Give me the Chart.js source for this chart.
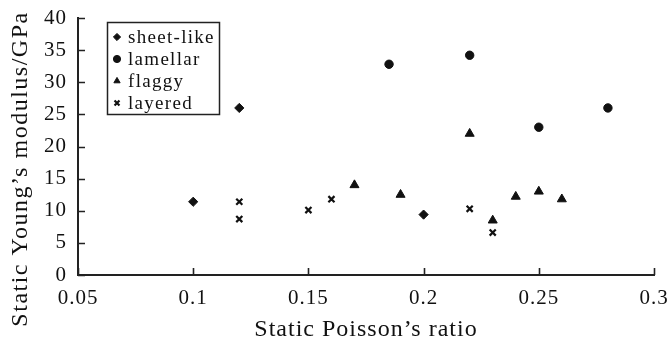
<!DOCTYPE html>
<html>
<head>
<meta charset="utf-8">
<script src="https://cdn.jsdelivr.net/npm/chart.js@4"></script>
<style>
html,body{margin:0;padding:0;background:#fff;}
#wrap{width:671px;height:344px;position:relative;}
</style>
</head>
<body>
<div id="wrap"><canvas id="c" width="671" height="344"></canvas></div>
<script>
// ---- data ----
const seriesNames = ['sheet-like', 'lamellar', 'flaggy', 'layered'];
const sheetX = [0.10, 0.12, 0.20];
const sheetY = [11.4, 26.0, 9.4];
const lamX = [0.185, 0.22, 0.25, 0.28];
const lamY = [32.8, 34.2, 23.0, 26.0];
const flagX = [0.17, 0.19, 0.22, 0.23, 0.24, 0.25, 0.26];
const flagY = [14.0, 12.5, 22.0, 8.5, 12.2, 13.0, 11.8];
const layX = [0.12, 0.12, 0.15, 0.16, 0.22, 0.23];
const layY = [11.4, 8.7, 10.1, 11.8, 10.3, 6.6];
const xTickValues = [0.05, 0.1, 0.15, 0.2, 0.25, 0.3];
const xTickLabels = ['0.05', '0.1', '0.15', '0.2', '0.25', '0.3'];
const yTickValues = [0, 5, 10, 15, 20, 25, 30, 35, 40];
const yTickLabels = ['0', '5', '10', '15', '20', '25', '30', '35', '40'];
const xTitle = 'Static Poisson\u2019s ratio';
const yTitle = 'Static Young\u2019s modulus/GPa';

function pts(xs, ys) { return xs.map((x, i) => ({x: x, y: ys[i]})); }

const INK = '#111';
const FONT = '"Liberation Serif", "Times New Roman", serif';

const datasets = [
  {label: seriesNames[0], data: pts(sheetX, sheetY), pointStyle: 'rectRot', pointRadius: 4.6, backgroundColor: INK, borderColor: INK, borderWidth: 1},
  {label: seriesNames[1], data: pts(lamX, lamY), pointStyle: 'circle', pointRadius: 4.2, backgroundColor: INK, borderColor: INK, borderWidth: 1},
  {label: seriesNames[2], data: pts(flagX, flagY), pointStyle: 'triangle', pointRadius: 5.2, backgroundColor: INK, borderColor: INK, borderWidth: 1},
  {label: seriesNames[3], data: pts(layX, layY), pointStyle: 'crossRot', pointRadius: 4.3, backgroundColor: INK, borderColor: INK, borderWidth: 2.2}
];

// wide tracking like the reference typesetting
const tracking = {
  id: 'tracking',
  beforeDraw(chart) { chart.ctx.letterSpacing = '1px'; }
};

// inward tick marks, drawn from the scales
const innerTicks = {
  id: 'innerTicks',
  afterDatasetsDraw(chart) {
    const ctx = chart.ctx, xs = chart.scales.x, ys = chart.scales.y, a = chart.chartArea;
    ctx.save();
    ctx.strokeStyle = '#222';
    ctx.lineWidth = 1.6;
    ctx.beginPath();
    xTickValues.forEach(v => {
      const px = Math.round(xs.getPixelForValue(v)) + 0.5;
      ctx.moveTo(px, a.bottom); ctx.lineTo(px, a.bottom - 7);
    });
    yTickValues.forEach(v => {
      const py = Math.round(ys.getPixelForValue(v)) + 0.5;
      ctx.moveTo(a.left, py); ctx.lineTo(a.left + 7, py);
    });
    ctx.stroke();
    ctx.restore();
  }
};

// rotated y-axis title, placed like the reference
const yTitlePlugin = {
  id: 'yTitlePlugin',
  afterDraw(chart) {
    const ctx = chart.ctx;
    ctx.save();
    ctx.letterSpacing = '1.5px';
    ctx.translate(21, 169);
    ctx.rotate(-Math.PI / 2);
    ctx.font = '24px ' + FONT;
    ctx.fillStyle = INK;
    ctx.textAlign = 'center';
    ctx.textBaseline = 'middle';
    ctx.fillText(yTitle, 0, 0);
    ctx.restore();
  }
};

// boxed legend inside plot
const boxLegend = {
  id: 'boxLegend',
  afterDraw(chart) {
    const ctx = chart.ctx, a = chart.chartArea;
    const left = a.left + 29, top = a.top + 4, w = 112, h = 92;
    ctx.save();
    ctx.strokeStyle = '#222';
    ctx.lineWidth = 1.5;
    ctx.strokeRect(left + 0.5, top + 0.5, w, h);
    ctx.font = '19px ' + FONT;
    ctx.letterSpacing = '1.3px';
    ctx.textBaseline = 'middle';
    chart.data.datasets.forEach((ds, i) => {
      const cy = top + 15 + i * 22;
      const cx = left + 10;
      ctx.fillStyle = INK; ctx.strokeStyle = INK;
      ctx.lineWidth = ds.borderWidth;
      Chart.helpers.drawPoint(ctx, {
        pointStyle: ds.pointStyle, radius: ds.pointStyle === 'crossRot' ? 3.5 : 3.6,
        rotation: 0, borderWidth: ds.borderWidth
      }, cx, cy);
      ctx.fillStyle = INK;
      ctx.fillText(ds.label, left + 21, cy + 1);
    });
    ctx.restore();
  }
};

new Chart(document.getElementById('c'), {
  type: 'scatter',
  data: {datasets: datasets},
  options: {
    responsive: false,
    animation: false,
    layout: {padding: {top: 18, right: 17, left: 0, bottom: 0}},
    plugins: {legend: {display: false}, tooltip: {enabled: false}},
    scales: {
      x: {
        type: 'linear', min: 0.05, max: 0.3,
        afterBuildTicks: s => { s.ticks = xTickValues.map(v => ({value: v})); },
        afterFit: s => { s.height = 69; s.paddingLeft = 0; s.paddingRight = 0; },
        grid: {display: false, drawTicks: false},
        border: {display: true, color: '#222', width: 2},
        ticks: {color: INK, font: {family: FONT, size: 21}, padding: 11,
                callback: (v, i) => xTickLabels[i]},
        title: {display: true, text: xTitle, color: INK, font: {family: FONT, size: 24}, padding: {top: 0, bottom: 0}}
      },
      y: {
        type: 'linear', min: 0, max: 40,
        afterBuildTicks: s => { s.ticks = yTickValues.map(v => ({value: v})); },
        afterFit: s => { s.width = 78; s.paddingTop = 0; s.paddingBottom = 0; },
        grid: {display: false, drawTicks: false},
        border: {display: true, color: '#222', width: 2},
        ticks: {color: INK, font: {family: FONT, size: 21}, padding: 11,
                callback: (v, i) => yTickLabels[i]},
        title: {display: false}
      }
    }
  },
  plugins: [tracking, innerTicks, yTitlePlugin, boxLegend]
});
</script>
</body>
</html>
